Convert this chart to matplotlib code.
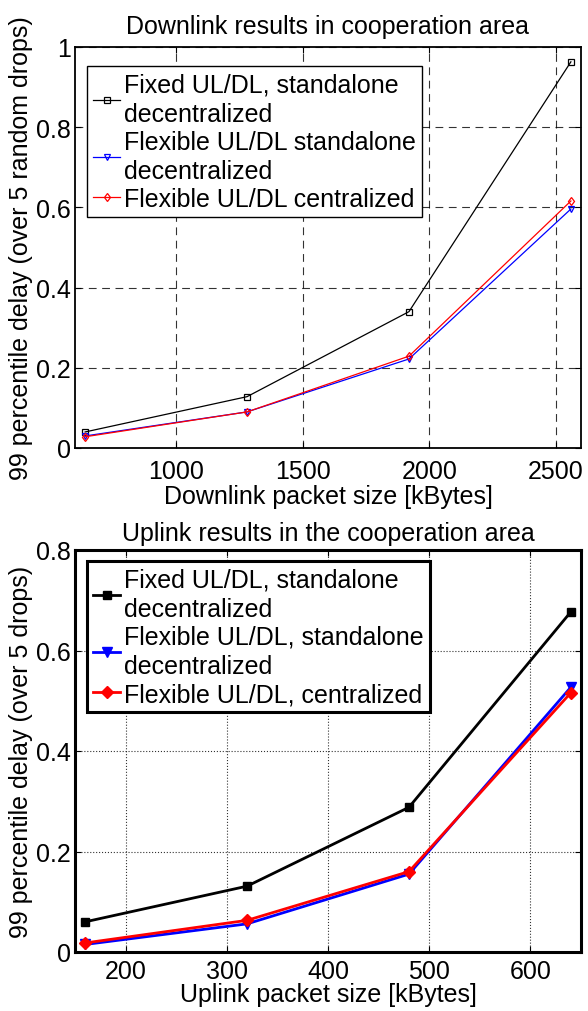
import matplotlib
matplotlib.use("Agg")
import matplotlib.pyplot as plt

plt.rcParams['font.family'] = ['Liberation Sans', 'DejaVu Sans']
plt.rcParams['font.size'] = 18

# downlink panel
dl_size = [640, 1280, 1920, 2560]
dl_fixed = [0.040, 0.128, 0.340, 0.963]
dl_flex_sa = [0.030, 0.090, 0.222, 0.596]
dl_flex_c = [0.028, 0.090, 0.229, 0.616]

# uplink panel
ul_size = [160, 320, 480, 640]
ul_fixed = [0.060, 0.131, 0.288, 0.677]
ul_flex_sa = [0.015, 0.056, 0.155, 0.527]
ul_flex_c = [0.018, 0.063, 0.160, 0.516]

lbl_dl = ["Fixed UL/DL, standalone\ndecentralized",
          "Flexible UL/DL standalone\ndecentralized",
          "Flexible UL/DL centralized"]
lbl_ul = ["Fixed UL/DL, standalone\ndecentralized",
          "Flexible UL/DL, standalone\ndecentralized",
          "Flexible UL/DL, centralized"]

fig = plt.figure(figsize=(5.88, 10.12), dpi=100)
W, H = 588.0, 1012.0
ax1 = fig.add_axes([75 / W, 1 - 449 / H, 506 / W, 401 / H])
ax2 = fig.add_axes([75 / W, 1 - 953 / H, 506 / W, 402 / H])


def style_axes(ax, lw, grid_ls, xpad):
    for s in ax.spines.values():
        s.set_linewidth(lw)
    ax.tick_params(direction='in', top=True, right=True, length=4, width=0.8)
    ax.tick_params(axis='x', pad=xpad)
    ax.tick_params(axis='y', pad=3)
    ax.grid(True, color='k', linestyle=grid_ls, linewidth=0.8, alpha=0.8)
    ax.set_axisbelow(True)


def make_legend(ax, top, frame_lw):
    leg = ax.legend(loc='upper left', bbox_to_anchor=(0.023, top), handlelength=1.1,
                    handletextpad=0.15, labelspacing=0.15, borderpad=0.25, borderaxespad=0,
                    fancybox=False, edgecolor='k', framealpha=1)
    leg.get_frame().set_linewidth(frame_lw)
    for t in leg.get_texts():
        t.set_linespacing(1.3)
    return leg


# top: downlink
ax1.plot(dl_size, dl_fixed, color='k', lw=0.9, marker='s', ms=4.5, mfc='none', mew=0.9, label=lbl_dl[0])
ax1.plot(dl_size, dl_flex_sa, color='b', lw=0.9, marker='v', ms=4.5, mfc='none', mew=0.9, label=lbl_dl[1])
ax1.plot(dl_size, dl_flex_c, color='r', lw=0.9, marker='d', ms=4.5, mfc='none', mew=0.9, label=lbl_dl[2])
ax1.set_xlim(600, 2600)
ax1.set_ylim(0, 1)
ax1.set_xticks([1000, 1500, 2000, 2500])
ax1.set_yticks([0, 0.2, 0.4, 0.6, 0.8, 1])
ax1.set_yticklabels(['0', '0.2', '0.4', '0.6', '0.8', '1'])
style_axes(ax1, 1.3, (0, (7, 5)), 8)
ax1.set_title("Downlink results in cooperation area", fontsize=18, pad=10)
ax1.set_xlabel("Downlink packet size [kBytes]", labelpad=1)
ax1.set_ylabel("99 percentile delay (over 5 random drops)", labelpad=2)
make_legend(ax1, 0.953, 1.0)

# bottom: uplink
ax2.plot(ul_size, ul_fixed, color='k', lw=2, marker='s', ms=6, label=lbl_ul[0])
ax2.plot(ul_size, ul_flex_sa, color='b', lw=2, marker='v', ms=7, label=lbl_ul[1])
ax2.plot(ul_size, ul_flex_c, color='r', lw=2, marker='D', ms=6, label=lbl_ul[2])
ax2.set_xlim(150, 650)
ax2.set_ylim(0, 0.8)
ax2.set_xticks([200, 300, 400, 500, 600])
ax2.set_yticks([0, 0.2, 0.4, 0.6, 0.8])
ax2.set_yticklabels(['0', '0.2', '0.4', '0.6', '0.8'])
style_axes(ax2, 2.2, ':', 5)
ax2.set_title("Uplink results in the cooperation area", fontsize=18, pad=7)
ax2.set_xlabel("Uplink packet size [kBytes]", labelpad=-1)
ax2.set_ylabel("99 percentile delay (over 5 drops)", labelpad=2)
make_legend(ax2, 0.973, 2.2)

fig.savefig("out.png", dpi=100)
